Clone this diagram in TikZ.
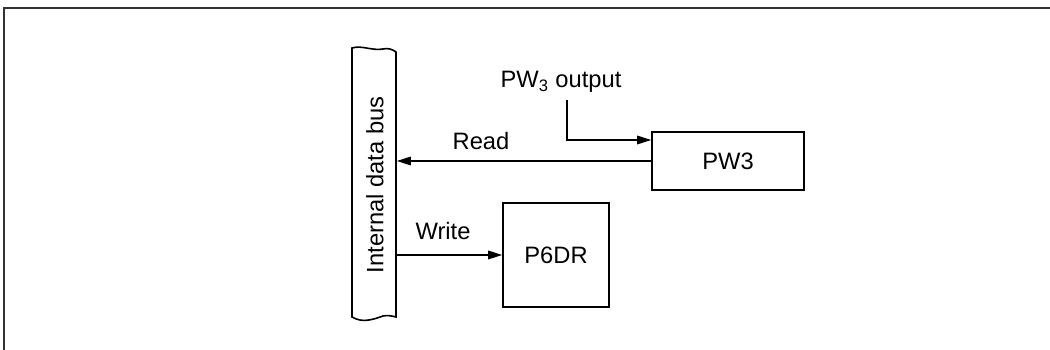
\documentclass[tikz,border=0pt]{standalone}
\usepackage{fontspec}
\setmainfont{Liberation Sans}
\usetikzlibrary{arrows.meta}
\begin{document}
\begin{tikzpicture}[x=0.02cm,y=-0.02cm,
  line width=0.9pt,
  lbl/.style={font=\fontsize{13.5}{15}\selectfont, inner sep=0pt},
  blk/.style={draw, font=\fontsize{13.5}{15}\selectfont, inner sep=0pt},
  arr/.style={-{Triangle[length=0.28cm,width=0.17cm]}}]
\useasboundingbox (0,0) rectangle (1050,350);
% outer frame (top and left visible)
\draw[line width=1pt, black!80] (4,352) -- (4,8) -- (1052,8);
% bus
\node[minimum width=0.88cm, minimum height=5.36cm, inner sep=0pt] (bus) at (374,184) {};
\node[lbl, rotate=90] (buslbl) at (375,185) {Internal data bus};
\draw (352,317) .. controls (362,323) and (372,320) .. (383,316) .. controls (388,315) and (392,316) .. (396,317)
      -- (396,52) .. controls (392,49) and (388,48) .. (383,49) .. controls (372,51) and (362,45) .. (352,48) -- cycle;
% blocks
\node[blk, minimum width=3.04cm, minimum height=1.16cm] (pw3) at (728,161) {PW3};
\node[blk, minimum width=2.12cm, minimum height=2.08cm] (p6dr) at (556,255) {P6DR};
% PW3 output
\node[lbl] (outlbl) at (561,82) {PW\textsubscript{3} output};
\coordinate (o1) at (567,100);
\draw[arr] (o1) |- ([yshift=0.42cm]pw3.west);
% Read
\draw[arr] (pw3.west) -- (pw3.west -| bus.east);
\node[lbl] (readlbl) at (481,141) {Read};
% Write
\draw[arr] (bus.east |- p6dr.west) -- (p6dr.west);
\node[lbl] (writelbl) at (443,231) {Write};
\end{tikzpicture}
\end{document}
